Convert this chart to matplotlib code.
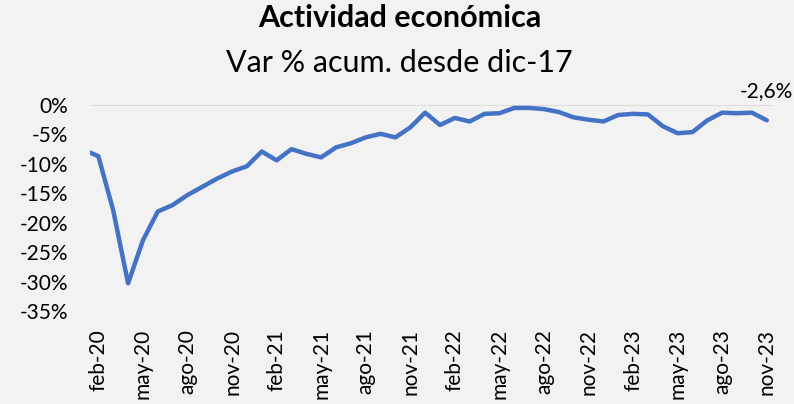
import matplotlib
matplotlib.use("Agg")
import matplotlib.pyplot as plt
from matplotlib.ticker import FuncFormatter

# months from jan-20 (index 0) to nov-23 (index 46)
month_names = ['ene', 'feb', 'mar', 'abr', 'may', 'jun',
               'jul', 'ago', 'sep', 'oct', 'nov', 'dic']
months = [f"{month_names[i % 12]}-{20 + i // 12}" for i in range(47)]

# Var % acumulada desde dic-17
values = [-7.6, -8.7, -17.9, -30.3, -23.0, -18.1, -17.0, -15.3, -13.9, -12.5,
          -11.3, -10.4, -7.9, -9.4, -7.5, -8.3, -8.9, -7.2, -6.5, -5.5,
          -4.9, -5.5, -3.8, -1.3, -3.4, -2.2, -2.8, -1.5, -1.4, -0.5,
          -0.5, -0.7, -1.2, -2.1, -2.5, -2.8, -1.7, -1.5, -1.6, -3.6,
          -4.8, -4.6, -2.6, -1.3, -1.4, -1.3, -2.6]

yticks = [0, -5, -10, -15, -20, -25, -30, -35]

bg = '#f2f2f2'
plt.rcParams['font.family'] = ['Lato', 'DejaVu Sans']

fig = plt.figure(figsize=(7.94, 4.04), dpi=100, facecolor=bg)
ax = fig.add_axes([0.1134, 0.2302, 0.8598, 0.5099])
ax.set_facecolor(bg)

x = list(range(len(values)))
ax.plot(x, values, color='#4472c4', linewidth=3.2, solid_joinstyle='round',
        solid_capstyle='round')

ax.set_xlim(0.44, 46.4)
ax.set_ylim(-35, 0)
ax.set_yticks(yticks)
ax.yaxis.set_major_formatter(FuncFormatter(lambda v, p: f"{int(v)}%"))
ax.set_xticks(x[1::3])
ax.set_xticklabels(months[1::3], rotation=90)
ax.tick_params(axis='both', length=0, labelsize=15, colors='#000000')
ax.tick_params(axis='x', pad=13)
ax.tick_params(axis='y', pad=16)

for s in ax.spines.values():
    s.set_visible(False)
ax.axhline(0, color='#d9d9d9', linewidth=1.2, zorder=0)

ax.annotate(f"{values[-1]:.1f}%".replace('.', ','), xy=(x[-1], values[-1]),
            xytext=(0, 14), textcoords='offset points', ha='center', va='bottom',
            fontsize=15)

fig.text(0.503, 0.955, 'Actividad económica', ha='center', va='center',
         fontsize=22, fontweight='bold')
fig.text(0.503, 0.843, 'Var % acum. desde dic-17', ha='center', va='center',
         fontsize=22)

fig.savefig('out.png', dpi=100, facecolor=bg)
